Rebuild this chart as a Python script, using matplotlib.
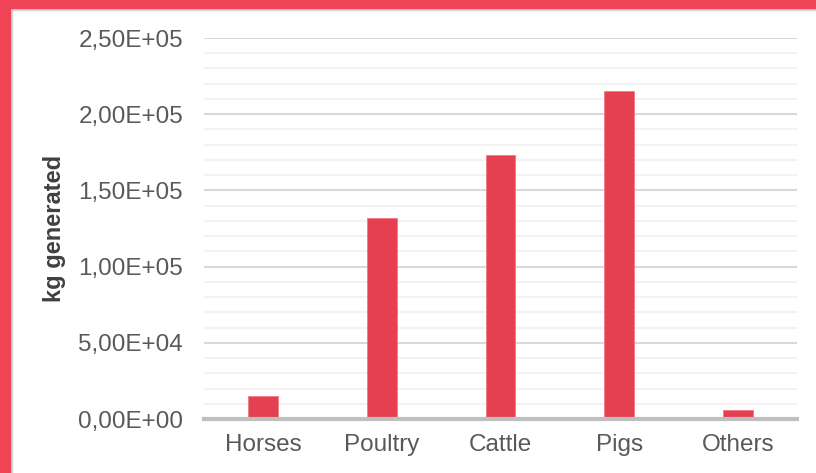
import matplotlib
matplotlib.use("Agg")
import matplotlib.pyplot as plt
from matplotlib.patches import Rectangle
from matplotlib.ticker import MultipleLocator, FuncFormatter

categories = ["Horses", "Poultry", "Cattle", "Pigs", "Others"]
values = [1.5e4, 1.32e5, 1.73e5, 2.15e5, 6.0e3]
y_label = "kg generated"

plt.rcParams['font.family'] = ['Liberation Sans', 'DejaVu Sans']

W, H = 816, 473
fig = plt.figure(figsize=(W / 100, H / 100), dpi=100)
fig.patch.set_facecolor("white")
ax = fig.add_axes([204 / W, 1 - 419 / H, (797 - 204) / W, (419 - 38) / H])

x = list(range(len(categories)))
ax.bar(x, values, width=0.25, color="#e5404f", edgecolor="#ef7a85", linewidth=0.6, zorder=3)

ax.set_xlim(-0.5, len(categories) - 0.5)
ax.set_ylim(0, 2.5e5)
ax.yaxis.set_major_locator(MultipleLocator(5e4))
ax.yaxis.set_minor_locator(MultipleLocator(1e4))
ax.yaxis.set_major_formatter(FuncFormatter(lambda v, p: f"{v:.2E}".replace('.', ',')))
ax.grid(axis='y', which='major', color='#d9d9d9', linewidth=1.5, zorder=0)
ax.grid(axis='y', which='minor', color='#f2f2f2', linewidth=1.5, zorder=0)
ax.set_xticks(x)
ax.set_xticklabels(categories)
ax.tick_params(axis='both', which='both', length=0, labelsize=17.5, colors='#595959')
ax.tick_params(axis='y', pad=15)
ax.tick_params(axis='x', pad=11)
for s in ['top', 'right', 'left']:
    ax.spines[s].set_visible(False)
ax.spines['bottom'].set_color('#bfbfbf')
ax.spines['bottom'].set_linewidth(3)
ax.spines['bottom'].set_zorder(4)
ax.set_ylabel(y_label, fontsize=17, fontweight='bold', color='#404040')
ax.yaxis.set_label_coords(-(204 - 66) / 593, 0.5)

# frame edges (cropped red border)
fig.patches.append(Rectangle((0, 1 - 8 / H), 1, 8 / H, transform=fig.transFigure, color='#f04355', zorder=10))
fig.patches.append(Rectangle((0, 0), 10 / W, 1, transform=fig.transFigure, color='#f04355', zorder=10))
fig.patches.append(Rectangle((10 / W, 1 - 10 / H), 1, 2 / H, transform=fig.transFigure, color='#d6d6d6', zorder=9))
fig.patches.append(Rectangle((10 / W, 0), 2 / W, 1 - 8 / H, transform=fig.transFigure, color='#d6d6d6', zorder=9))

fig.savefig("out.png", dpi=100)
